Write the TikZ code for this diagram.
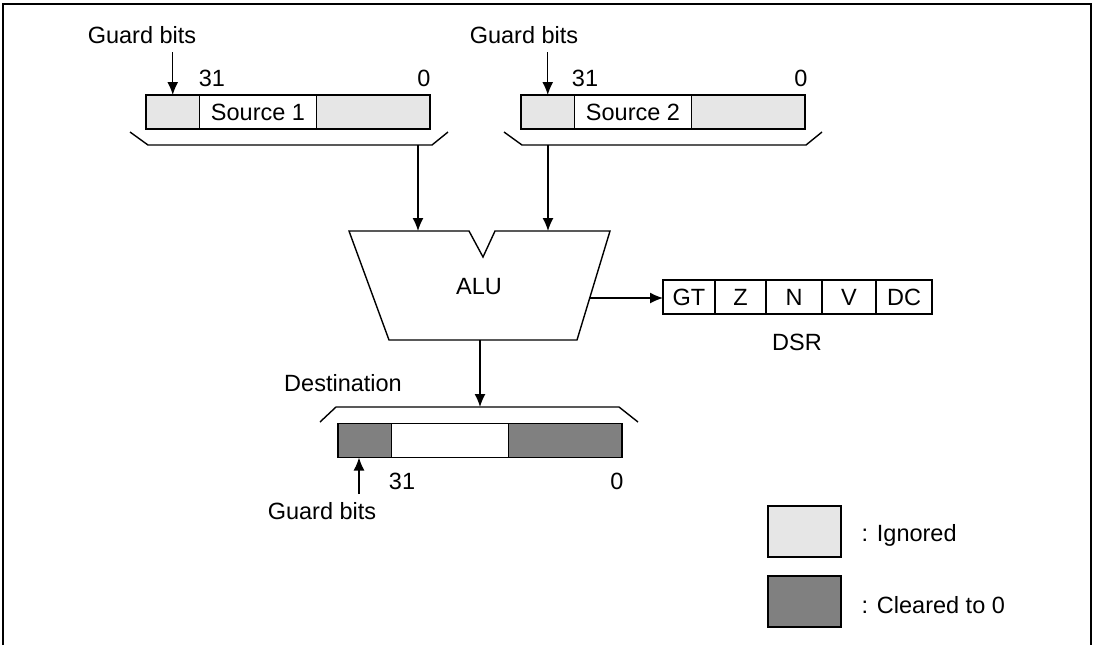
\documentclass[tikz,border=0pt]{standalone}
\usepackage{fontspec}
\setmainfont{Liberation Sans}
\usetikzlibrary{arrows.meta,positioning}
\definecolor{ignoredgray}{HTML}{E6E6E6}
\definecolor{cleargray}{HTML}{808080}
\begin{document}
\begin{tikzpicture}
    [
        x=0.5pt, y=-0.5pt,
        font=\fontsize{11.75}{14}\selectfont,
        line width=0.7pt,
        >={Latex[length=6.5pt,width=5.5pt]},
        cell/.style={draw, minimum height=17pt, inner sep=0pt, outer sep=0pt},
        ignored/.style={cell, fill=ignoredgray},
        cleared/.style={cell, fill=cleargray},
        label/.style={inner sep=1pt},
        edge/.style={->},
    ]

    \useasboundingbox (0,0) rectangle (1097,645);
    \draw[line width=0.9pt] (3,645) -- (3,4) -- (1091,4) -- (1091,645);

    % source 1
    \node (s1g) at (146,112) [ignored, anchor=west, minimum width=26.75pt] {};
    \node (s1)  [cell, right=0pt of s1g, minimum width=58.5pt] {Source 1};
    \node (s1r) [ignored, right=0pt of s1, minimum width=56.75pt] {};
    \node (s1hi) at (212,78)  [label] {31};
    \node (s1lo) at (424,78)  [label] {0};
    \node (g1)   at (142,35)  [label] {Guard bits};
    \draw[->] (g1.south -| s1g.north) ++(0,6) -- (s1g.north);
    \draw (130,132) -- (148,145) -- (432,145) -- (448,132);
    \coordinate (b1) at (418,145);

    % source 2
    \node (s2g) at (521,112) [ignored, anchor=west, minimum width=26.75pt] {};
    \node (s2)  [cell, right=0pt of s2g, minimum width=58.5pt] {Source 2};
    \node (s2r) [ignored, right=0pt of s2, minimum width=56.75pt] {};
    \node (s2hi) at (585,78)  [label] {31};
    \node (s2lo) at (801,78)  [label] {0};
    \node (g2)   at (524,35)  [label] {Guard bits};
    \draw[->] (g2.south -| s2g.north) ++(0,6) -- (s2g.north);
    \draw (504,132) -- (522,145) -- (806,145) -- (822,132);
    \coordinate (b2) at (548,145);

    % alu
    \draw (349,231) -- (469,231) -- (483,257) -- (495,231) -- (610,231)
        -- (577,340) -- (389,340) -- cycle;
    \node (alu) at (479,287) {ALU};
    \coordinate (in1) at (418,231);
    \coordinate (in2) at (548,231);
    \coordinate (out) at (590,298);
    \coordinate (bot) at (480,340);

    \path
    (b1) edge [edge] (in1)
    (b2) edge [edge] (in2);

    % dsr
    \node (gt) at (663,297) [cell, anchor=west, minimum width=26pt] {GT};
    \node (z)  [cell, right=0pt of gt, minimum width=25.5pt] {Z};
    \node (n)  [cell, right=0pt of z,  minimum width=28pt] {N};
    \node (v)  [cell, right=0pt of n,  minimum width=27pt] {V};
    \node (dc) [cell, right=0pt of v,  minimum width=28pt] {DC};
    \node (dsr) at (797,342) [label] {DSR};

    \path (out) edge [edge] (gt.west |- out);

    % destination
    \draw (320,422) -- (336,407) -- (619,407) -- (638,422);
    \coordinate (b3) at (480,407);
    \node (dg) at (338,440.5) [cleared, anchor=west, minimum width=26.75pt] {};
    \node (d)  [cell, right=0pt of dg, minimum width=58.5pt] {};
    \node (dr) [cleared, right=0pt of d, minimum width=56.75pt] {};
    \node (dest) at (343,383) [label] {Destination};
    \node (dhi)  at (402,481) [label] {31};
    \node (dlo)  at (617,481) [label] {0};
    \node (g3)   at (322,511) [label] {Guard bits};
    \coordinate (g3a) at (359,494);

    \path
    (bot) edge [edge] (b3)
    (g3a) edge [edge] (g3a |- dg.south);

    % legend
    \node (ign) at (804.5,531.5) [ignored, minimum width=36.5pt, minimum height=25.5pt] {};
    \node (clr) at (804.5,601.5) [cleared, minimum width=36.5pt, minimum height=25.5pt] {};
    \node (igntext) at (859,535) [label, anchor=west] {: Ignored};
    \node (clrtext) at (859,605) [label, anchor=west] {: Cleared to 0};

\end{tikzpicture}
\end{document}
